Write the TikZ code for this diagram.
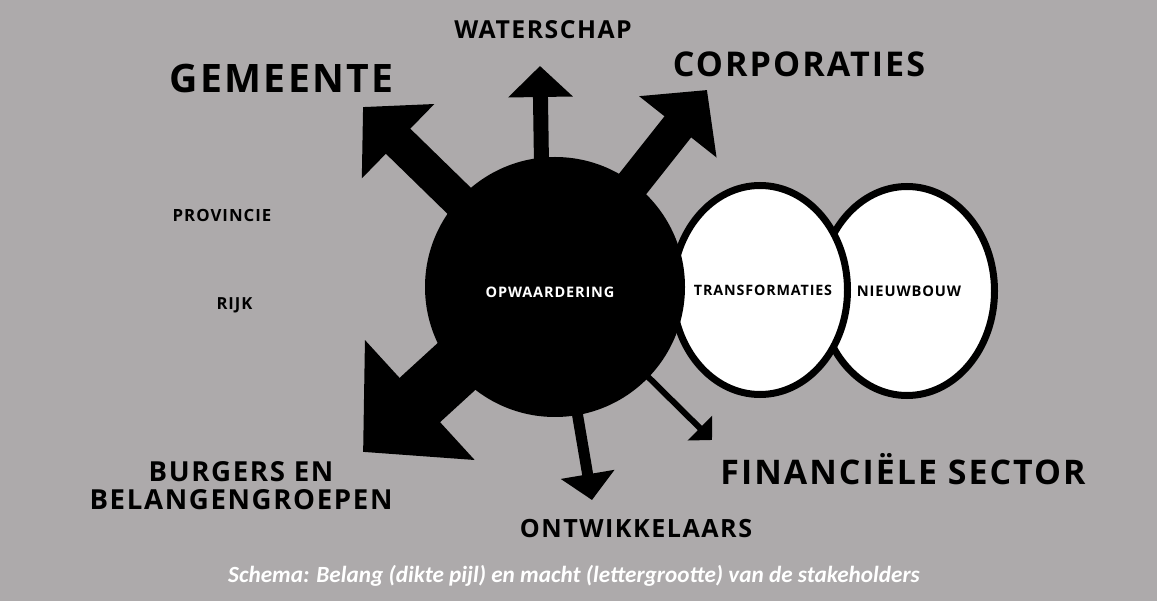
\documentclass[tikz,border=0pt]{standalone}
\usepackage{fontspec}
\usetikzlibrary{arrows.meta, shapes.geometric}
\newfontfamily\lblfont[LetterSpace=6]{Open Sans}
\newfontfamily\capfont{Carlito Bold Italic}
\newcommand{\lblsz}[1]{\lblfont\bfseries\fontsize{#1}{#1}\selectfont}
\definecolor{bggray}{RGB}{173,170,171}
\tikzset{
lbl/.style={inner sep=0pt, anchor=base}, % labels of the stakeholders
kern/.style={circle, fill=black, minimum size=260pt, inner sep=0pt}, % the black core
bol/.style={ellipse, draw=black, line width=7pt, fill=white, minimum width=175pt, minimum height=209pt, inner sep=0pt}, % white circles
pijl/.style={line width=#1, line cap=butt, shorten <=-6pt}, % thickness of the shaft = belang
}

\begin{document}
\begin{tikzpicture}[x=1pt, y=-1pt]
                \fill[bggray] (0,0) rectangle (1157,601);
                \node[bol, label={[font=\lblsz{14.7}, xshift=2pt]center:NIEUWBOUW}] (nieuw) at (907,291) {};
                \node[bol, label={[font=\lblsz{14.3}, xshift=3pt]center:TRANSFORMATIES}] (trans) at (760,290) {};
                \node[kern, label={[text=white, font=\lblsz{14.5}, xshift=-5pt, yshift=-5pt]center:OPWAARDERING}] (opw) at (555,287) {};
                % arrow ends
                \coordinate (gemtip) at (363,107);
                \coordinate (wstip) at (540,66);
                \coordinate (corptip) at (707,90);
                \coordinate (burgtip) at (363,452);
                \coordinate (ontwtip) at (592,500);
                \coordinate (fintip) at (712,440);
                \draw[pijl=35pt, -{Triangle[width=101pt, length=49pt]}] (opw.138.7) -- (gemtip);
                \draw[pijl=15pt, -{Triangle[width=63pt, length=31pt]}] (opw.96.6) -- (wstip);
                \draw[pijl=34pt, -{Triangle[width=96pt, length=47pt]}] (opw.53.7) -- (corptip);
                \draw[pijl=60pt, -{Triangle[width=158pt, length=77pt]}] (opw.219.7) -- (burgtip);
                \draw[pijl=11pt, -{Triangle[width=53pt, length=26pt]}] (opw.280.2) -- (ontwtip);
                \draw[pijl=6pt, -{Triangle[width=34pt, length=17pt]}] (opw.316.2) -- (fintip);
                % stakeholders
                \node[lbl, font=\lblsz{24.8}] (ws) at (543,39) {WATERSCHAP};
                \node[lbl, font=\lblsz{39.2}] (gem) at (281.5,93) {GEMEENTE};
                \node[lbl, font=\lblsz{34.1}] (corp) at (799,77) {CORPORATIES};
                \node[lbl, font=\lblsz{16.8}] (prov) at (222,222) {PROVINCIE};
                \node[lbl, font=\lblsz{16.6}] (rijk) at (234.5,310) {RIJK};
                \node[lbl, font=\lblsz{27.6}, align=center] (burg) at (241,509) {BURGERS EN\\BELANGENGROEPEN};
                \node[lbl, font=\lblsz{25.1}] (ontw) at (636,537) {ONTWIKKELAARS};
                \node[lbl, font=\lblsz{33.9}] (fin) at (903,485) {FINANCIËLE SECTOR};
                \node[lbl, text=white, font=\capfont\fontsize{23.2}{23.2}\selectfont] (schema) at (574,582)
                    {Schema: Belang (dikte pijl) en macht (lettergrootte) van de stakeholders};
                \end{tikzpicture}
\end{document}
